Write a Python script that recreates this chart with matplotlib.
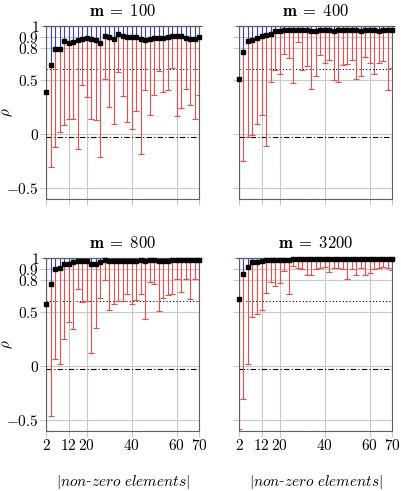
import numpy as np
import matplotlib
matplotlib.use("Agg")
import matplotlib.pyplot as plt

plt.rcParams['mathtext.fontset'] = 'cm'
plt.rcParams['font.family'] = 'serif'
plt.rcParams['font.serif'] = ['DejaVu Serif']

# === datos ===
nnz = list(range(2, 71, 2))
m_values = [100, 400, 800, 3200]

mean_100 = [0.39, 0.64, 0.79, 0.79, 0.86, 0.84, 0.85, 0.87, 0.88, 0.89, 0.88, 0.87,
            0.84, 0.91, 0.90, 0.88, 0.93, 0.91, 0.90, 0.90, 0.90, 0.88, 0.87, 0.88,
            0.89, 0.89, 0.89, 0.90, 0.91, 0.91, 0.91, 0.89, 0.88, 0.88, 0.90]
min_100 = [-0.9, -0.30, -0.12, 0.02, 0.08, 0.14, 0.14, -0.14, 0.45, 0.34, 0.14, 0.13,
           -0.21, 0.51, 0.25, 0.09, 0.57, 0.35, 0.11, 0.05, 0.21, -0.18, 0.41, 0.18,
           0.36, 0.58, 0.39, 0.41, 0.61, 0.17, 0.24, 0.42, 0.27, 0.14, 0.36]

mean_400 = [0.51, 0.76, 0.86, 0.87, 0.89, 0.91, 0.92, 0.93, 0.95, 0.95, 0.96, 0.96,
            0.96, 0.96, 0.96, 0.96, 0.95, 0.95, 0.96, 0.96, 0.96, 0.95, 0.96, 0.96,
            0.96, 0.96, 0.96, 0.95, 0.96, 0.96, 0.96, 0.95, 0.96, 0.96, 0.96]
min_400 = [-0.9, -0.25, -0.03, -0.01, 0.09, 0.18, -0.11, 0.48, 0.59, 0.56, 0.74, 0.70,
           0.47, 0.85, 0.59, 0.63, 0.42, 0.54, 0.73, 0.66, 0.69, 0.50, 0.48, 0.64,
           0.65, 0.69, 0.51, 0.54, 0.71, 0.66, 0.56, 0.66, 0.68, 0.41, 0.61]

mean_800 = [0.57, 0.76, 0.90, 0.91, 0.94, 0.94, 0.96, 0.97, 0.97, 0.97, 0.94, 0.94,
            0.96, 0.98, 0.97, 0.97, 0.97, 0.97, 0.97, 0.97, 0.97, 0.98, 0.97, 0.98,
            0.98, 0.97, 0.97, 0.97, 0.98, 0.98, 0.98, 0.98, 0.98, 0.98, 0.98]
min_800 = [-0.9, -0.46, 0.07, 0.02, 0.25, 0.41, 0.34, 0.71, 0.59, 0.60, 0.12, 0.35,
           0.63, 0.80, 0.52, 0.57, 0.60, 0.60, 0.67, 0.57, 0.61, 0.67, 0.44, 0.78,
           0.76, 0.51, 0.63, 0.66, 0.67, 0.81, 0.69, 0.81, 0.62, 0.81, 0.60]

mean_3200 = [0.62, 0.85, 0.92, 0.96, 0.96, 0.97, 0.98, 0.98, 0.98, 0.98, 0.98, 0.98,
             0.99, 0.99, 0.99, 0.99, 0.99, 0.99, 0.99, 0.99, 0.99, 0.99, 0.99, 0.99,
             0.99, 0.99, 0.99, 0.99, 0.99, 0.99, 0.99, 0.99, 0.99, 0.99, 0.99]
min_3200 = [-0.58, -0.30, 0.02, 0.45, 0.48, 0.52, 0.68, 0.78, 0.74, 0.77, 0.88, 0.67,
            0.93, 0.91, 0.90, 0.84, 0.84, 0.90, 0.91, 0.92, 0.87, 0.91, 0.91, 0.90,
            0.81, 0.90, 0.84, 0.91, 0.84, 0.86, 0.90, 0.91, 0.92, 0.91, 0.89]

max_all = [1.0] * len(nnz)

means = [mean_100, mean_400, mean_800, mean_3200]
mins = [min_100, min_400, min_800, min_3200]

# lineas de referencia
ref_dotted = 0.6
ref_dashdot = -0.03
ref_bottom = -0.6

xticks = [2, 12, 20, 40, 60, 70]
yticks = [-0.5, 0, 0.5, 0.8, 0.9, 1]
ytick_labels = [r'$-0.5$', r'$0$', r'$0.5$', r'$0.8$', r'$0.9$', r'$1$']

# === figura ===
W, H = 401, 491
fig = plt.figure(figsize=(W / 100, H / 100), dpi=100)

pos = [(46, 26), (239, 26), (46, 258), (239, 258)]
aw, ah = 153, 173

rojo = '#f24a4a'
azul = '#3a3ad0'
gris = '#c8c8c8'

for i, m in enumerate(m_values):
    px, py = pos[i]
    ax = fig.add_axes([px / W, 1 - (py + ah) / H, aw / W, ah / H])
    x = np.array(nnz)
    mu = np.array(means[i])
    lo = np.array(mins[i])
    hi = np.array(max_all)

    ax.axhline(ref_dotted, color='black', ls=(0, (1, 2)), lw=0.8, zorder=1)
    ax.axhline(ref_dashdot, color='black', ls=(0, (5, 2, 1, 2)), lw=0.8, zorder=1)
    ax.axhline(ref_bottom, color='black', ls=(0, (1, 1.5)), lw=0.8, zorder=1)

    ax.vlines(x, lo, mu, color=rojo, lw=0.8, zorder=2)
    ax.plot(x, lo, '_', color=rojo, ms=4, mew=0.8, zorder=2)
    ax.vlines(x, mu, hi, color=azul, lw=0.8, zorder=2)
    ax.plot(x, hi, '_', color=azul, ms=4, mew=0.8, zorder=2, clip_on=False)
    ax.plot(x, mu, 's', color='black', ms=2.8, zorder=3, clip_on=False)

    ax.set_xlim(2, 70)
    ax.set_ylim(-0.6, 1)
    ax.set_xticks(xticks)
    ax.set_yticks(yticks)
    ax.grid(True, color=gris, lw=0.8)
    ax.set_axisbelow(True)
    ax.tick_params(direction='out', length=4, color=gris, width=0.8, labelsize=11, pad=1)
    for s in ax.spines.values():
        s.set_color('#606060')
        s.set_linewidth(0.8)

    if i % 2 == 0:
        ax.set_yticklabels(ytick_labels)
        ax.set_ylabel(r'$\rho$', fontsize=11)
        ax.yaxis.set_label_coords(-0.2, 0.5)
    else:
        ax.set_yticklabels([])
    if i >= 2:
        ax.set_xticklabels([r'$%d$' % t for t in xticks])
        ax.set_xlabel(r'$|\mathit{non}$‐$\mathit{zero\ elements}|$', fontsize=11)
        ax.xaxis.set_label_coords(0.5, -0.24)
    else:
        ax.set_xticklabels([])

    ax.set_title(r'$\mathbf{m}\;\mathbf{=}\;\mathbf{%d}$' % m, fontsize=12, pad=7)

fig.savefig('out.png', dpi=100)
